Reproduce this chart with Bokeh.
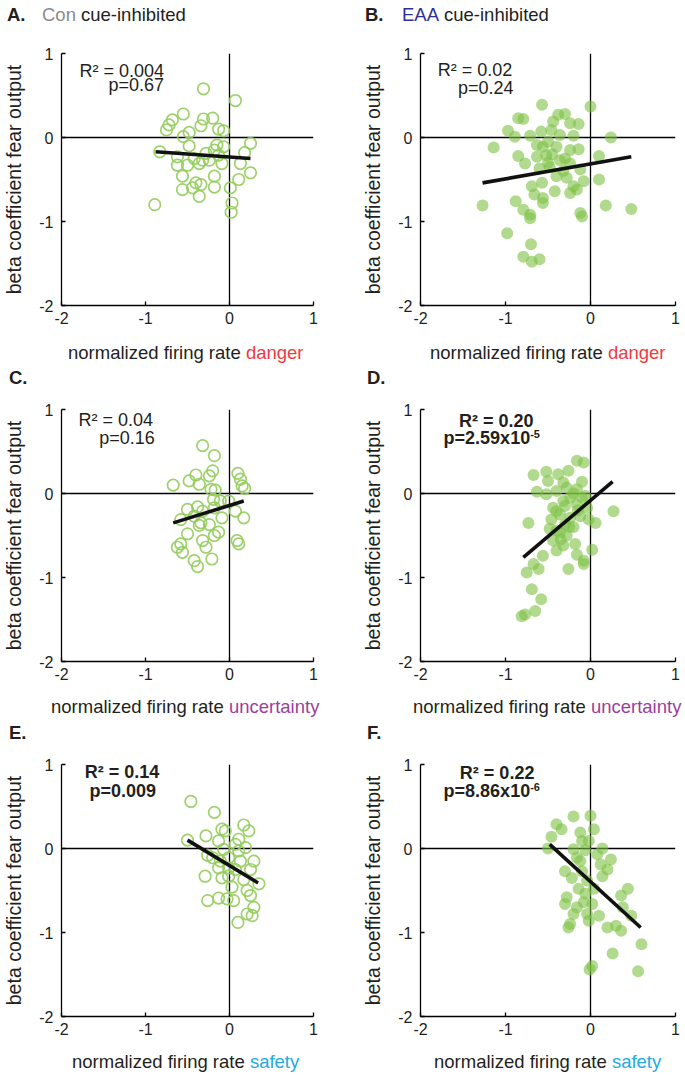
from bokeh.plotting import figure
from bokeh.models import Range1d, Span, Label, FixedTicker, Div
from bokeh.layouts import column, row
from bokeh.embed import file_html
from bokeh.resources import INLINE

# ---------------- data ----------------
tick_vals = [-2, -1, 0, 1]
tick_text = ["-2", "-1", "0", "1"]

a_x = [-0.31, 0.07, -0.55, -0.68, -0.72, -0.75, -0.31, -0.20, -0.34, -0.13, -0.07, -0.48, -0.55, 0.25, -0.83,
       -0.48, -0.15, -0.07, -0.18, -0.28, 0.18, -0.62, -0.62, -0.50, -0.36, -0.24, -0.09, 0.13, 0.25, -0.56,
       -0.18, 0.11, -0.40, -0.34, -0.56, -0.44, -0.18, 0.01, -0.36, -0.89, 0.03, 0.02, -0.32, -0.42, -0.13]
a_y = [0.58, 0.44, 0.28, 0.21, 0.15, 0.09, 0.22, 0.23, 0.14, 0.10, 0.08, 0.06, 0.01, -0.07, -0.17,
       -0.10, -0.09, -0.11, -0.15, -0.19, -0.18, -0.23, -0.33, -0.33, -0.31, -0.27, -0.31, -0.31, -0.42, -0.46,
       -0.46, -0.50, -0.54, -0.56, -0.62, -0.60, -0.59, -0.60, -0.70, -0.80, -0.78, -0.89, -0.27, -0.25, -0.21]
a_fit_x = [-0.88, 0.25]
a_fit_y = [-0.17, -0.25]

b_x = [-0.57, 0.00, -0.85, -0.79, -0.38, -0.30, -0.44, -0.24, -0.14, -0.97, -0.89, -0.71, -0.58, -0.46, -0.36,
       -0.20, 0.24, -1.14, -0.63, -0.56, -0.40, -0.24, -0.14, -0.85, -0.77, -0.63, -0.52, -0.36, -0.24, 0.10,
       -0.60, -0.48, -0.12, -0.40, -0.28, -0.08, 0.10, -0.69, -0.57, -0.66, -0.56, -0.56, -0.42, -0.24, -0.16,
       -0.88, -0.79, -1.27, -0.71, -0.71, -0.12, -0.10, 0.18, 0.48, -0.98, -0.70, -0.79, -0.69, -0.60, -0.32,
       -0.20, -0.50, -0.45, -0.30, -0.50]
b_y = [0.39, 0.37, 0.23, 0.22, 0.27, 0.28, 0.19, 0.17, 0.16, 0.08, 0.01, 0.02, 0.07, 0.09, 0.03,
       0.02, 0.00, -0.12, -0.09, -0.11, -0.11, -0.15, -0.14, -0.22, -0.31, -0.23, -0.21, -0.27, -0.31, -0.22,
       -0.37, -0.35, -0.38, -0.46, -0.48, -0.52, -0.50, -0.58, -0.54, -0.68, -0.72, -0.78, -0.64, -0.66, -0.62,
       -0.76, -0.86, -0.81, -0.96, -0.92, -0.90, -0.94, -0.81, -0.85, -1.14, -1.27, -1.42, -1.48, -1.45, -0.40,
       -0.58, -0.05, -0.20, -0.25, -0.30]
b_fit_x = [-1.27, 0.48]
b_fit_y = [-0.54, -0.23]

c_x = [-0.32, -0.18, -0.20, -0.24, -0.40, -0.48, -0.67, -0.36, 0.10, 0.13, 0.15, 0.18, -0.22, -0.17,
       -0.19, -0.11, -0.01, -0.38, -0.50, -0.32, -0.18, -0.09, 0.07, 0.17, -0.58, -0.42, -0.34, -0.24,
       -0.13, -0.18, -0.50, -0.32, -0.58, -0.56, 0.09, 0.11, -0.42, -0.38, -0.21, -0.28, -0.62, -0.36]
c_y = [0.57, 0.45, 0.27, 0.21, 0.22, 0.15, 0.10, 0.11, 0.24, 0.17, 0.09, 0.06, 0.05, 0.04,
       -0.07, -0.09, -0.09, -0.16, -0.19, -0.21, -0.17, -0.29, -0.21, -0.29, -0.31, -0.27, -0.35, -0.37,
       -0.46, -0.50, -0.48, -0.56, -0.60, -0.70, -0.56, -0.60, -0.80, -0.87, -0.78, -0.64, -0.64, -0.38]
c_fit_x = [-0.67, 0.17]
c_fit_y = [-0.35, -0.09]

d_x = [-0.16, -0.08, -0.67, -0.52, -0.38, -0.26, -0.10, -0.50, -0.32, -0.63, -0.52, -0.40, -0.28, -0.16,
       -0.06, -0.24, -0.32, -0.16, -0.44, -0.04, 0.27, -0.36, -0.46, -0.73, -0.12, 0.06, -0.02, -0.30,
       -0.40, -0.28, -0.44, -0.32, -0.18, -0.40, 0.02, -0.16, -0.08, -0.08, -0.56, -0.67, -0.61, -0.75,
       -0.26, -0.69, -0.58, -0.65, -0.77, -0.81, -0.36, -0.24, -0.40, -0.20, -0.48,
       -0.20, -0.10, -0.30, -0.15, -0.35, -0.25]
d_y = [0.39, 0.37, 0.22, 0.26, 0.23, 0.27, 0.14, 0.15, 0.13, 0.02, -0.01, 0.03, 0.07, 0.05,
       -0.03, -0.05, -0.09, -0.13, -0.17, -0.17, -0.21, -0.25, -0.31, -0.35, -0.27, -0.35, -0.31, -0.37,
       -0.44, -0.50, -0.56, -0.62, -0.60, -0.68, -0.67, -0.73, -0.80, -0.84, -0.74, -0.84, -0.90, -0.94,
       -0.90, -1.14, -1.26, -1.40, -1.44, -1.46, -0.46, -0.29, -0.21, -0.40, -0.42,
       0.00, -0.05, -0.15, -0.20, -0.55, -0.40]
d_fit_x = [-0.79, 0.26]
d_fit_y = [-0.76, 0.14]

e_x = [-0.46, -0.18, -0.50, -0.28, -0.13, -0.09, -0.05, 0.17, 0.23, 0.11, 0.19, 0.07, -0.26, -0.20,
       -0.11, -0.01, 0.13, 0.29, -0.13, 0.07, 0.25, -0.29, -0.09, -0.01, 0.17, 0.35, 0.03, 0.21, 0.25,
       -0.26, -0.13, -0.03, 0.05, 0.29, 0.21, 0.27, 0.10, -0.01, 0.11, -0.07]
e_y = [0.56, 0.43, 0.10, 0.15, 0.09, 0.23, 0.21, 0.28, 0.21, 0.11, 0.01, 0.05, -0.08, -0.11,
       -0.15, -0.11, -0.15, -0.15, -0.23, -0.25, -0.25, -0.33, -0.35, -0.33, -0.37, -0.42, -0.46, -0.50, -0.56,
       -0.62, -0.59, -0.60, -0.62, -0.70, -0.78, -0.80, -0.88, -0.23, -0.03, -0.01]
e_fit_x = [-0.50, 0.34]
e_fit_y = [0.10, -0.41]

f_x = [-0.20, 0.00, -0.40, -0.34, -0.46, -0.50, -0.12, 0.04, -0.10, -0.02, -0.20, -0.06, 0.14, 0.08,
       0.24, -0.16, -0.30, -0.22, -0.10, 0.20, 0.14, -0.04, -0.14, -0.28, -0.30, -0.08, 0.02, 0.36, 0.44,
       0.38, 0.48, -0.20, -0.04, 0.10, -0.02, -0.24, -0.26, 0.20, 0.30, 0.36, 0.60, 0.26, -0.01, 0.02,
       0.56, -0.12, 0.12, -0.06, 0.04, -0.16]
f_y = [0.38, 0.39, 0.29, 0.23, 0.14, 0.00, 0.19, 0.23, 0.09, 0.09, -0.01, -0.02, 0.00, -0.07,
       -0.13, -0.11, -0.27, -0.35, -0.27, -0.25, -0.33, -0.38, -0.48, -0.58, -0.66, -0.64, -0.66, -0.56, -0.48,
       -0.70, -0.80, -0.78, -0.78, -0.80, -0.86, -0.90, -0.94, -0.94, -0.92, -0.98, -1.14, -1.25, -1.44, -1.40,
       -1.46, -0.15, -0.19, -0.54, -0.48, -0.70]
f_fit_x = [-0.48, 0.59]
f_fit_y = [0.05, -0.94]

panel_letters = ["A.", "B.", "C.", "D.", "E.", "F."]
group_names = ["Con", "EAA"]
header_rest = "cue-inhibited"
y_label = "beta coefficient fear output"
x_label_base = "normalized firing rate"
x_label_words = ["danger", "uncertainty", "safety"]
stat_r2 = ["R\u00b2 = 0.004", "R\u00b2 = 0.02", "R\u00b2 = 0.04", "R\u00b2 = 0.20", "R\u00b2 = 0.14", "R\u00b2 = 0.22"]
stat_p = ["p=0.67", "p=0.24", "p=0.16", "p=2.59x10", "p=0.009", "p=8.86x10"]
stat_p_exp = ["", "", "", "-5", "", "-6"]

# ---------------- styles / layout ----------------
FONT = "Liberation Sans"
TXT = "#231f20"
GREEN_OPEN = "#94cc5c"
GREEN_FILL = "#7dc142"
word_colors = ["#ee3a3f", "#9b3f9c", "#27a9e1"]
group_colors = ["#8a8a8a", "#2e3192"]
xlabel_pad = [68, 51, 72]
# per row: (figure height, top border)
row_geom = [(310, 23), (305, 18), (303, 16)]
# per panel stat layout: (x_r2, y_r2, align_r2, x_p, y_p, align_p, bold)
stat_pos = [
    (-0.78, 0.79, "right", -0.78, 0.625, "right", False),
    (-0.92, 0.80, "right", -0.905, 0.59, "right", False),
    (-0.91, 0.87, "right", -0.89, 0.66, "right", False),
    (-0.67, 0.865, "right", -0.71, 0.655, "right", True),
    (-1.28, 0.91, "center", -1.27, 0.69, "center", True),
    (-0.66, 0.895, "right", -0.71, 0.68, "right", True),
]

xs = [a_x, b_x, c_x, d_x, e_x, f_x]
ys = [a_y, b_y, c_y, d_y, e_y, f_y]
fxs = [a_fit_x, b_fit_x, c_fit_x, d_fit_x, e_fit_x, f_fit_x]
fys = [a_fit_y, b_fit_y, c_fit_y, d_fit_y, e_fit_y, f_fit_y]


def make_panel(i):
    col = i % 2
    r = i // 2
    H, top = row_geom[r]
    if col == 0:
        W, left = 353, 58
    else:
        W, left = 327, 67
    right = W - left - 255
    p = figure(width=W, height=H, x_range=Range1d(-2, 1), y_range=Range1d(-2, 1),
               output_backend="svg", toolbar_location=None,
               min_border_left=left, min_border_right=right, min_border_top=top,
               min_border_bottom=H - top - 252)
    p.xgrid.visible = False
    p.ygrid.visible = False
    p.outline_line_color = None
    p.background_fill_color = "white"
    p.border_fill_color = "white"
    for ax in (p.xaxis[0], p.yaxis[0]):
        ax.ticker = FixedTicker(ticks=tick_vals)
        ax.major_label_overrides = {v: s for v, s in zip(tick_vals, tick_text)}
        ax.major_tick_in = 4
        ax.major_tick_out = 0
        ax.minor_tick_line_color = None
        ax.axis_line_width = 1.3
        ax.axis_line_color = "black"
        ax.major_tick_line_color = "black"
        ax.major_tick_line_width = 1.3
        ax.major_label_text_font = FONT
        ax.major_label_text_font_size = "16px"
        ax.major_label_text_color = TXT
        ax.major_label_standoff = 8
    p.xaxis[0].major_label_standoff = 6
    p.yaxis[0].axis_label = y_label
    p.yaxis[0].axis_label_text_font = FONT
    p.yaxis[0].axis_label_text_font_size = "19.5px"
    p.yaxis[0].axis_label_text_font_style = "normal"
    p.yaxis[0].axis_label_text_color = TXT
    p.yaxis[0].axis_label_standoff = 11

    p.add_layout(Span(location=0, dimension="height", line_color="black", line_width=1.3, level="underlay"))
    p.add_layout(Span(location=0, dimension="width", line_color="black", line_width=1.3, level="underlay"))

    if col == 0:
        p.scatter(xs[i], ys[i], marker="circle", size=11.5, fill_color=None,
                  line_color=GREEN_OPEN, line_width=1.7, line_alpha=0.9)
    else:
        p.scatter(xs[i], ys[i], marker="circle", size=12, fill_color=GREEN_FILL,
                  fill_alpha=0.6, line_color=None)
    p.line(fxs[i], fys[i], line_color="#111111", line_width=3.6)

    x1, y1, al1, x2, y2, al2, bold = stat_pos[i]
    style = "bold" if bold else "normal"
    p.add_layout(Label(x=x1, y=y1, text=stat_r2[i], text_font=FONT, text_font_size="18px",
                       text_font_style=style, text_align=al1, text_baseline="middle", text_color=TXT))
    p.add_layout(Label(x=x2, y=y2, text=stat_p[i], text_font=FONT, text_font_size="18px",
                       text_font_style=style, text_align=al2, text_baseline="middle", text_color=TXT))
    if stat_p_exp[i]:
        p.add_layout(Label(x=x2, y=y2 + 0.055, text=stat_p_exp[i], text_font=FONT, text_font_size="11px",
                           text_font_style=style, text_align="left", text_baseline="middle", text_color=TXT))
    return p


BASE = ("font-family:'Liberation Sans',Arial,sans-serif;font-size:18.5px;color:%s;"
        "white-space:nowrap;margin:0;" % TXT)


def header_div(r, height):
    parts = []
    if r == 0:
        parts.append('<span style="display:inline-block;width:35px;font-weight:bold">%s</span>' % panel_letters[0])
        parts.append('<span style="display:inline-block;width:39px;color:%s">%s</span>' % (group_colors[0], group_names[0]))
        parts.append('<span style="display:inline-block;width:284px">%s</span>' % header_rest)
        parts.append('<span style="display:inline-block;width:37px;font-weight:bold">%s</span>' % panel_letters[1])
        parts.append('<span style="display:inline-block;width:42px;color:%s">%s</span>' % (group_colors[1], group_names[1]))
        parts.append('<span>%s</span>' % header_rest)
        pad = 7
    else:
        parts.append('<span style="display:inline-block;width:358px;font-weight:bold">%s</span>' % panel_letters[2 * r])
        parts.append('<span style="font-weight:bold">%s</span>' % panel_letters[2 * r + 1])
        pad = 9
    html = '<div style="%sline-height:%dpx;padding-left:%dpx">%s</div>' % (BASE, height, pad, "".join(parts))
    return Div(text=html, width=680, height=height, margin=0)


def xlabel_div(r, height):
    one = ('<span style="display:inline-block;width:362px">%s <span style="color:%s">%s</span></span>'
           % (x_label_base, word_colors[r], x_label_words[r]))
    html = '<div style="%sline-height:%dpx;padding-left:%dpx">%s%s</div>' % (BASE, height, xlabel_pad[r], one, one)
    return Div(text=html, width=680, height=height, margin=0)


panels = [make_panel(i) for i in range(6)]
layout = column(
    header_div(0, 30), row(panels[0], panels[1]), xlabel_div(0, 25),
    header_div(1, 26), row(panels[2], panels[3]), xlabel_div(1, 22),
    header_div(2, 30), row(panels[4], panels[5]), xlabel_div(2, 22),
)
open("out.html", "w").write(file_html(layout, INLINE))
